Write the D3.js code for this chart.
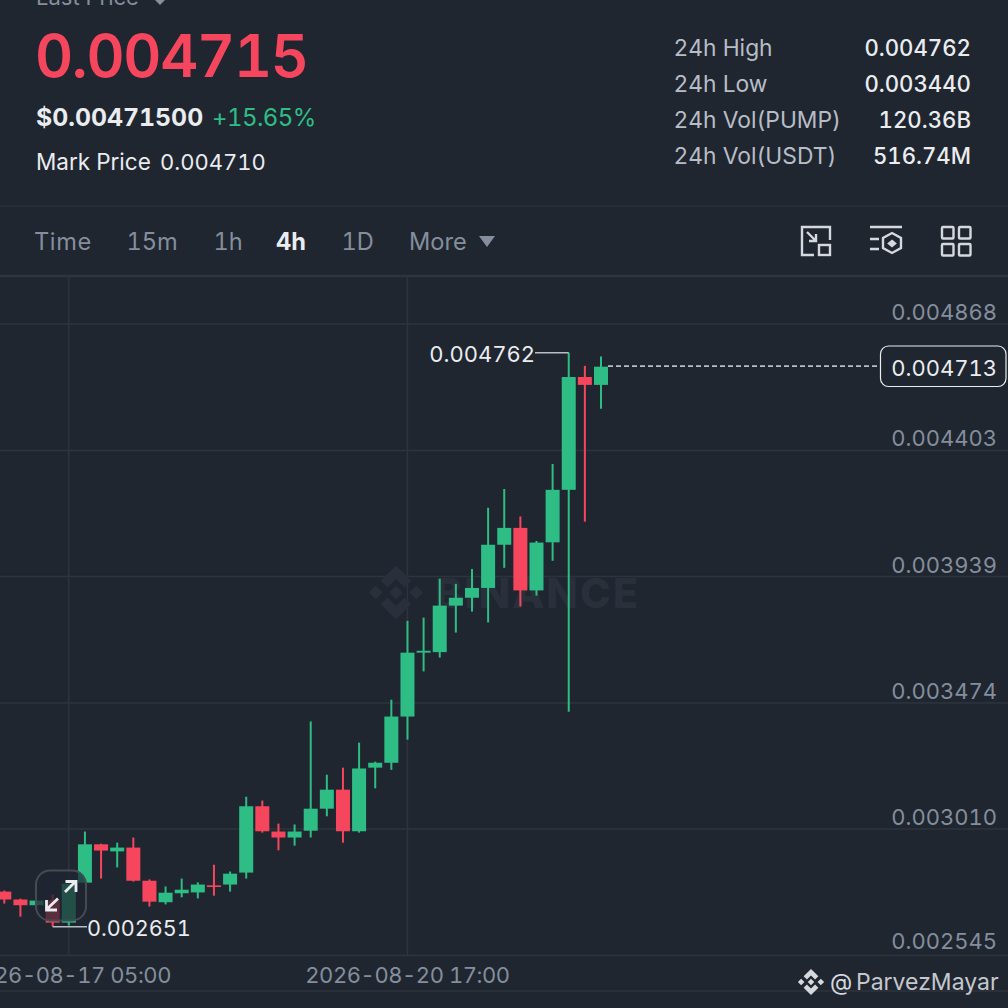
<!DOCTYPE html>
<html><head><meta charset="utf-8">
<script src="https://cdnjs.cloudflare.com/ajax/libs/d3/7.8.5/d3.min.js"></script>
<style>html,body{margin:0;padding:0;background:#1f2630;overflow:hidden}svg{display:block}text{font-family:Inter,"Noto Sans",sans-serif;font-variant-numeric:tabular-nums;font-feature-settings:"tnum" 1}</style>
</head><body><svg id="c" width="1008" height="1008"></svg>
<script>
const opens=[0.002780,0.002751,0.002730,0.002748,0.002666,0.002813,0.002954,0.002928,0.002942,0.002820,0.002741,0.002774,0.002777,0.002803,0.002806,0.002850,0.003094,0.003001,0.002979,0.003004,0.003085,0.003155,0.003002,0.003236,0.003254,0.003424,0.003659,0.003661,0.003832,0.003861,0.003897,0.004056,0.004118,0.003888,0.004065,0.004258,0.004673,0.004644];
const highs=[0.002784,0.002754,0.002747,0.002769,0.002809,0.003001,0.002956,0.002960,0.002979,0.002825,0.002799,0.002828,0.002814,0.002879,0.002854,0.003129,0.003115,0.003030,0.003027,0.003406,0.003210,0.003236,0.003328,0.003258,0.003486,0.003776,0.003788,0.003931,0.003912,0.003967,0.004192,0.004261,0.004160,0.004070,0.004353,0.004762,0.004714,0.004748];
const lows=[0.002736,0.002688,0.002729,0.002651,0.002655,0.002813,0.002828,0.002869,0.002817,0.002725,0.002733,0.002759,0.002755,0.002765,0.002780,0.002828,0.002997,0.002932,0.002949,0.002979,0.003057,0.002960,0.002997,0.003160,0.003228,0.003339,0.003590,0.003641,0.003733,0.003810,0.003770,0.003971,0.003829,0.003869,0.003997,0.003442,0.004141,0.004556];
const closes=[0.002751,0.002730,0.002747,0.002666,0.002809,0.002954,0.002931,0.002942,0.002820,0.002743,0.002776,0.002787,0.002806,0.002797,0.002846,0.003094,0.003002,0.002979,0.003001,0.003085,0.003155,0.003002,0.003233,0.003254,0.003424,0.003659,0.003666,0.003832,0.003861,0.003897,0.004056,0.004118,0.003888,0.004064,0.004258,0.004673,0.004644,0.004711];
const priceTicks=[0.004868,0.004403,0.003939,0.003474,0.003010,0.002545];
const timeTicks=["2026-08-17T05:00","2026-08-20T17:00"];
const firstCandle="2026-08-16T13:00";
const lastPrice=0.004713, highMark=0.004762, lowMark=0.002651;
const statLabels=["24h High","24h Low","24h Vol(PUMP)","24h Vol(USDT)"];
const statValues=["0.004762","0.003440","120.36B","516.74M"];
const tabs=["Time","15m","1h","4h","1D","More"];
const tabX=[34,126.5,213.5,276,341.5,409];

const BG="#1f2630",RED="#f6465d",GREEN="#2ebd85",LINE="#2e343e",GREY="#848e9c",WHITE="#eaecef";
const svg=d3.select("#c");
const txt=(x,y,s,size,fill,weight=400,anchor="start",g=svg)=>g.append("text").attr("x",x).attr("y",y).attr("font-size",size).attr("fill",fill).attr("font-weight",weight).attr("text-anchor",anchor).text(s);

const H=4*3600e3;
const t0=new Date(firstCandle).getTime();
const data=opens.map((o,i)=>({t:new Date(t0+i*H),o,h:highs[i],l:lows[i],c:closes[i]}));
const x=d3.scaleTime().domain([data[0].t,data[37].t]).range([4.3,601]);
const y=d3.scaleLinear().domain([0.004868,0.002545]).range([324,955.5]);

// chrome
[[206,1],[276,2.5],[991,1.5]].forEach(([yy,w])=>svg.append("line").attr("x1",0).attr("x2",1008).attr("y1",yy).attr("y2",yy).attr("stroke",LINE).attr("stroke-width",w));

// grid
const grid=svg.append("g");
priceTicks.forEach(p=>grid.append("line").attr("x1",0).attr("x2",1008).attr("y1",y(p)).attr("y2",y(p)).attr("stroke",LINE).attr("stroke-width",1.5));
timeTicks.forEach(t=>{const X=x(new Date(t));grid.append("line").attr("x1",X).attr("x2",X).attr("y1",277).attr("y2",956).attr("stroke",LINE).attr("stroke-width",1.5);});

// watermark
const WM="#2a303b";
const wm=svg.append("g").attr("fill",WM);
wm.append("g").attr("transform","translate(396,592.5) scale(1.69)").append("path").attr("d",logo());
txt(435,608,"BINANCE",41,WM,800,"start",wm).attr("textLength",203).attr("lengthAdjust","spacing");
function logo(){return "M0-16 9-7 5-3 0-8-5-3-9-7ZM-16 0-12-4-8 0-12 4ZM16 0 12 4 8 0 12-4ZM0 16-9 7-5 3 0 8 5 3 9 7ZM0-4 4 0 0 4-4 0Z";}

// candles
const cg=svg.append("g").selectAll("g").data(data).join("g").attr("fill",d=>d.c>=d.o?GREEN:RED).attr("stroke",d=>d.c>=d.o?GREEN:RED);
cg.append("line").attr("x1",d=>x(d.t)).attr("x2",d=>x(d.t)).attr("y1",d=>y(d.h)).attr("y2",d=>y(d.l)).attr("stroke-width",2);
cg.append("rect").attr("x",d=>x(d.t)-7).attr("width",14).attr("y",d=>y(Math.max(d.o,d.c))).attr("height",d=>Math.max(1.5,Math.abs(y(d.o)-y(d.c)))).attr("stroke","none");

// right axis
priceTicks.forEach(p=>txt(997,Math.min(y(p)-4,949),d3.format(".6f")(p),22,GREY,400,"end"));
timeTicks.forEach(t=>txt(x(new Date(t)),983,t.replace("T"," "),22,GREY,400,"middle").attr("letter-spacing",-0.45));

// last price marker
svg.append("line").attr("x1",x(data[37].t)+7).attr("x2",880).attr("y1",y(lastPrice)).attr("y2",y(lastPrice)).attr("stroke","#b7bdc6").attr("stroke-width",1.6).attr("stroke-dasharray","5 3");
svg.append("rect").attr("x",880.5).attr("y",346).attr("width",125.5).attr("height",40.5).attr("rx",8).attr("fill",BG).attr("stroke",WHITE).attr("stroke-width",1.2);
txt(997,375.5,d3.format(".6f")(lastPrice),22,WHITE,400,"end");

// high / low markers
const hiI=35,loI=3;
svg.append("path").attr("fill","none").attr("stroke","#b7bdc6").attr("stroke-width",1.5).attr("d",`M535 ${y(highMark)}H${x(data[hiI].t)}`);
txt(535,362,d3.format(".6f")(highMark),22,WHITE,400,"end");
svg.append("path").attr("fill","none").attr("stroke","#b7bdc6").attr("stroke-width",1.5).attr("d",`M${x(data[loI].t)} ${y(lowMark)}H87`);
txt(87,936,d3.format(".6f")(lowMark),21.6,WHITE,400,"start");

// expand button
svg.append("rect").attr("x",36).attr("y",870.5).attr("width",50).attr("height",50).attr("rx",14).attr("fill",BG).attr("fill-opacity",.72).attr("stroke","#454b55").attr("stroke-width",2);
svg.append("path").attr("fill","none").attr("stroke",WHITE).attr("stroke-width",2.8).attr("d","M47 909 58 898.5M46.5 900V910H57M65 892 75.5 881.5M65.5 881.5H76V892");

// header
txt(36,5,"Last Price",22,GREY);
svg.append("path").attr("d","M155 0h10l-5 5Z").attr("fill",GREY);
txt(35,77,"0.004715",59,RED,600).attr("letter-spacing",-1.3);
txt(36,126,"$0.00471500",24.8,WHITE,700);
txt(212,126,"+15.65%",24,GREEN,400).attr("letter-spacing",-0.6);
txt(36,170,"Mark Price",22.5,WHITE,400);
txt(160,170,"0.004710",22,WHITE,400);

const rows=[56,92,127.5,164];
statLabels.forEach((s,i)=>txt(673.5,rows[i],s,22.8,"#b7bdc6",400));
statValues.forEach((s,i)=>txt(971,rows[i],s,22.2,WHITE,500,"end"));

tabs.forEach((s,i)=>txt(tabX[i],250,s,23.6,s==="4h"?WHITE:GREY,s==="4h"?700:400).attr("letter-spacing",s==="Time"?0.6:0));
svg.append("path").attr("d","M479 236H495L487 247Z").attr("fill",GREY);

// icons
const ic=svg.append("g").attr("fill","none").attr("stroke","#d5d8dd").attr("stroke-width",2.4);
ic.append("path").attr("d","M830 240V227H802V255H814M807 232 816 241M816 234V241H809");
ic.append("rect").attr("x",819).attr("y",245).attr("width",11).attr("height",10);
ic.append("path").attr("d","M870 227H902M870 239H879M870 249H879M892 233 901 238V248L892 253 883 248V238Z");
ic.append("path").attr("d","M892 241l3 2.5-3 2.5-3-2.5Z").attr("fill","#d5d8dd");
[[942,227],[959,227],[942,244],[959,244]].forEach(([a,b])=>ic.append("rect").attr("x",a).attr("y",b).attr("width",11.5).attr("height",11.5).attr("rx",1));

// footer credit
const lg=svg.append("g").attr("transform","translate(811,982) scale(0.82)").attr("fill","#d5d8dd");
lg.append("path").attr("d",logo());
txt(830,990,"@",23,"#d5d8dd");
txt(856,990,"ParvezMayar",23,"#c4c8ce");
</script></body></html>
